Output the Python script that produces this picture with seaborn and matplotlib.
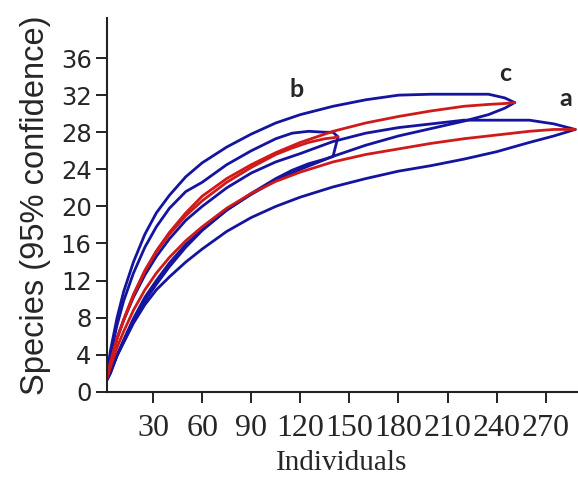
import matplotlib
matplotlib.use("Agg")
import matplotlib.pyplot as plt
import seaborn as sns

# rarefaction curves, values
a_x = [1, 4, 8, 12, 18, 25, 32, 40, 50, 60, 75, 90, 105, 120, 140, 160, 180, 200, 220, 240, 260, 275, 288]
a_lower = [1, 2.0, 3.9, 5.3, 7.4, 9.4, 11.0, 12.4, 14.0, 15.4, 17.3, 18.8, 20.0, 21.0, 22.1, 23.0, 23.8, 24.4, 25.1, 25.9, 26.9, 27.6, 28.3]
a_mean = [1, 2.7, 4.8, 6.5, 8.8, 11.0, 12.8, 14.5, 16.3, 17.8, 19.8, 21.4, 22.7, 23.7, 24.8, 25.6, 26.2, 26.8, 27.3, 27.7, 28.1, 28.3, 28.3]
a_upper = [1, 3.3, 5.8, 7.7, 10.2, 12.6, 14.6, 16.5, 18.5, 20.0, 22.0, 23.6, 24.8, 25.7, 27.0, 27.9, 28.5, 28.9, 29.3, 29.3, 29.3, 28.9, 28.3]

b_x = [1, 4, 8, 12, 18, 25, 32, 40, 50, 60, 75, 90, 105, 115, 125, 135, 140, 143]
b_upper = [1, 4.0, 7.2, 9.8, 12.8, 15.6, 17.8, 19.8, 21.6, 22.6, 24.5, 26.0, 27.3, 27.9, 28.1, 28.0, 28.0, 27.5]
b_mean = [1, 3.1, 5.7, 7.7, 10.4, 13.0, 15.1, 17.0, 19.0, 20.6, 22.6, 24.2, 25.6, 26.3, 26.9, 27.3, 27.4, 27.5]
b_lower = [1, 2.2, 4.0, 5.6, 7.9, 10.2, 12.0, 13.9, 15.9, 17.5, 19.6, 21.4, 23.0, 23.9, 24.6, 25.1, 25.4, 27.5]

c_x = [1, 4, 8, 12, 18, 25, 32, 40, 50, 60, 75, 90, 105, 120, 140, 160, 180, 200, 220, 235, 245, 251]
c_upper = [1, 4.5, 8.0, 10.8, 14.0, 17.0, 19.3, 21.2, 23.2, 24.7, 26.4, 27.8, 29.0, 29.9, 30.8, 31.5, 32.0, 32.1, 32.1, 32.1, 31.7, 31.2]
c_mean = [1, 3.2, 5.8, 7.8, 10.5, 13.1, 15.2, 17.2, 19.3, 21.1, 23.0, 24.5, 25.8, 26.9, 28.1, 29.0, 29.7, 30.3, 30.8, 31.0, 31.1, 31.2]
c_lower = [1, 2.2, 3.9, 5.4, 7.6, 9.8, 11.6, 13.5, 15.6, 17.4, 19.6, 21.3, 22.8, 24.0, 25.4, 26.6, 27.6, 28.4, 29.2, 29.9, 30.6, 31.2]

labels = ["a", "b", "c"]
label_pos = [(282, 31.6), (118, 32.6), (245, 34.3)]

yticks = [0, 4, 8, 12, 16, 20, 24, 28, 32, 36]
xticks = [30, 60, 90, 120, 150, 180, 210, 240, 270]

sns.set_style("ticks")
fig = plt.figure(figsize=(5.78, 4.79), dpi=100)
ax = fig.add_axes([0.185, 0.182, 0.813, 0.78])

blue = "#14149e"
red = "#d01a1a"

for xs, lo, up in [(a_x, a_lower, a_upper), (b_x, b_lower, b_upper), (c_x, c_lower, c_upper)]:
    sns.lineplot(x=xs, y=up, color=blue, linewidth=2.0, sort=False, ax=ax)
    sns.lineplot(x=xs, y=lo, color=blue, linewidth=2.0, sort=False, ax=ax)
for xs, m in [(a_x, a_mean), (b_x, b_mean), (c_x, c_mean)]:
    sns.lineplot(x=xs, y=m, color=red, linewidth=2.0, sort=False, ax=ax)

for lab, (lx, ly) in zip(labels, label_pos):
    ax.text(lx, ly, lab, fontsize=18, fontweight="bold", ha="center", va="center",
            family="Lato")

ax.set_xlim(1.8, 289)
ax.set_ylim(0, 40.3)
ax.set_yticks(yticks)
ax.set_xticks(xticks)
ax.set_yticklabels([str(t) for t in yticks], fontsize=17.5, family="DejaVu Sans")
ax.set_xticklabels([str(t) for t in xticks], fontsize=23, family="Liberation Serif")
ax.tick_params(axis="both", direction="out", length=8, width=1.4, color="#222222")
ax.tick_params(axis="x", pad=8)
ax.tick_params(axis="y", pad=3)
ax.set_xlabel("Individuals", fontsize=21, family="Liberation Serif", labelpad=5)
ax.set_ylabel("Species (95% confidence)", fontsize=23.5, family="Liberation Sans", labelpad=7)
sns.despine(ax=ax)
for s in ["left", "bottom"]:
    ax.spines[s].set_linewidth(1.5)
    ax.spines[s].set_color("#222222")

fig.savefig("out.png", dpi=100)
